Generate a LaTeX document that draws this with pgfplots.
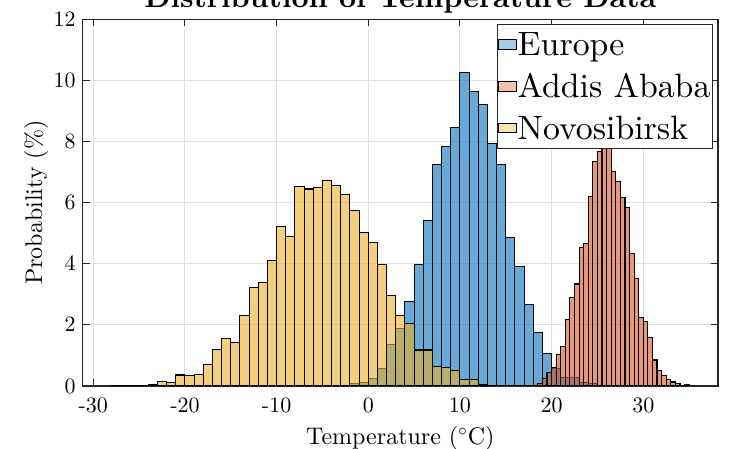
\documentclass[border=0pt]{standalone}
\usepackage{fontspec}
\setmainfont{lmroman10-regular.otf}[BoldFont=lmroman10-bold.otf, ItalicFont=lmroman10-italic.otf]
\usepackage{pgfplots}
\pgfplotsset{compat=1.18}
\definecolor{europe}{rgb}{0,0.447,0.741}
\definecolor{addis}{rgb}{0.85,0.325,0.098}
\definecolor{novo}{rgb}{0.929,0.694,0.125}
\newcommand{\legstrut}{\rule[-4.45pt]{0pt}{17.05pt}}
\pgfplotsset{
  hist/.style={ybar interval, fill=#1, fill opacity=0.6, draw=black, line width=0.55pt,
    legend image code/.code={%
      \draw[black, line width=0.5pt, fill=#1!60] (0pt,-2.4pt) rectangle (8.85pt,2.4pt);}},
}
\begin{document}
\begin{tikzpicture}
\begin{axis}[
    width=317.65pt, height=183.25pt, scale only axis,
    xmin=-31.15, xmax=38.15, ymin=0, ymax=12,
    xtick={-30,-20,...,30},
    xticklabels={-30,-20,-10,0,10,20,30},
    ytick={0,2,...,12},
    tick align=inside, major tick length=3.5pt,
    tick style={black!85, line width=0.5pt},
    axis line style={black!85, line width=0.6pt},
    grid=major, major grid style={black!13, line width=0.5pt},
    ticklabel style={font=\fontsize{11}{13}\selectfont},
    xticklabel style={yshift=-2.3pt},
    xlabel={Temperature ($^\circ$C)},
    ylabel={Probability (\%)},
    label style={font=\fontsize{12}{14}\selectfont},
    ylabel style={yshift=-4pt},
    title={Distribution of Temperature Data},
    title style={font=\bfseries\fontsize{14.9}{17}\selectfont, anchor=base, yshift=0.1pt},
    legend style={at={(1,1)}, anchor=north east, xshift=-2.65pt, yshift=-2.25pt,
      draw=black!85, line width=0.5pt, fill=white,
      inner xsep=0.4pt, inner ysep=2.5pt, row sep=5.75pt,
      font=\fontsize{16.9}{19}\selectfont,
      nodes={inner xsep=0.5pt, inner ysep=0.5pt},
      cells={anchor=west}},
]
% Europe, 1 degC bins (left edge, percent)
\addplot[hist=europe] coordinates {
(-4,0.01) (-3,0.03) (-2,0.07) (-1,0.11) (0,0.24) (1,0.58) (2,1.36) (3,1.88)
(4,2.76) (5,3.99) (6,5.41) (7,7.25) (8,7.84) (9,8.46) (10,10.26) (11,9.63)
(12,9.22) (13,7.95) (14,7.25) (15,4.87) (16,3.91) (17,2.68) (18,1.75) (19,1.05)
(20,0.58) (21,0.28) (22,0.27) (23,0.10) (24,0.09) (25,0.01) (26,0)
};
\addlegendentry{\legstrut Europe}
% Addis Ababa, 0.5 degC bins
\addplot[hist=addis] coordinates {
(18,0.02) (18.5,0.08) (19,0.25) (19.5,0.44) (20,0.62) (20.5,1.04) (21,1.29) (21.5,2.18)
(22,2.89) (22.5,3.34) (23,4.52) (23.5,4.67) (24,6.21) (24.5,7.34) (25,7.68) (25.5,8.25)
(26,7.90) (26.5,7.01) (27,6.69) (27.5,6.18) (28,5.85) (28.5,4.33) (29,3.53) (29.5,2.25)
(30,2.11) (30.5,1.59) (31,0.85) (31.5,0.52) (32,0.33) (32.5,0.22) (33,0.13) (33.5,0.09)
(34,0.03) (34.5,0.05) (35,0)
};
\addlegendentry{\legstrut Addis Ababa}
% Novosibirsk, 1 degC bins
\addplot[hist=novo] coordinates {
(-28,0.02) (-27,0.02) (-26,0.02) (-25,0.02) (-24,0.05) (-23,0.15) (-22,0.12) (-21,0.36)
(-20,0.33) (-19,0.38) (-18,0.71) (-17,1.20) (-16,1.56) (-15,1.42) (-14,2.31) (-13,3.22)
(-12,3.38) (-11,4.12) (-10,5.22) (-9,4.88) (-8,6.53) (-7,6.45) (-6,6.50) (-5,6.72)
(-4,6.57) (-3,6.28) (-2,5.74) (-1,5.03) (0,4.69) (1,3.99) (2,2.97) (3,2.31)
(4,2.05) (5,1.18) (6,1.18) (7,0.63) (8,0.61) (9,0.50) (10,0.22) (11,0.20)
(12,0.05) (13,0.02) (14,0.01) (15,0.01) (16,0.01) (17,0.01) (18,0)
};
\addlegendentry{\legstrut Novosibirsk}
\coordinate (sw) at (rel axis cs:0,0);
\coordinate (ne) at (rel axis cs:1,1);
\end{axis}
\pgfresetboundingbox
\useasboundingbox ([shift={(-41.35pt,-31.5pt)}]sw) rectangle ([shift={(9pt,9.75pt)}]ne);
\end{tikzpicture}
\end{document}
